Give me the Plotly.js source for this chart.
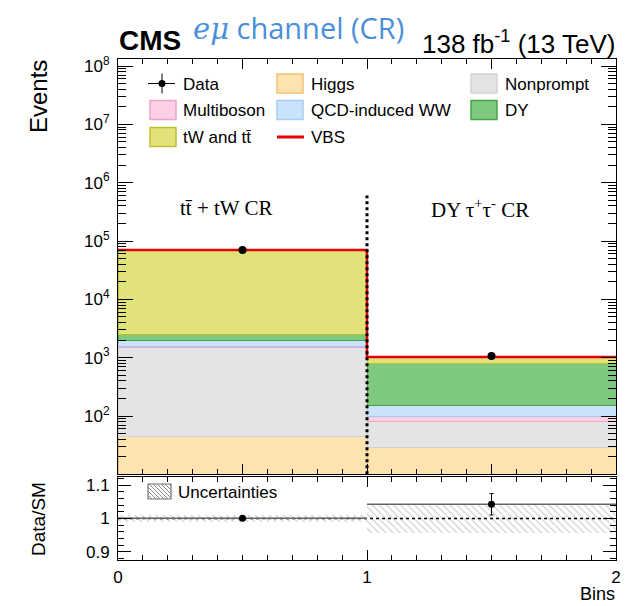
<!DOCTYPE html>
<html><head><meta charset="utf-8">
<script src="https://cdn.plot.ly/plotly-3.0.1.min.js"></script>
<style>html,body{margin:0;padding:0;background:#fff}#chart{width:641px;height:606px}</style>
</head><body><div id="chart"></div>
<script>
// ---------------- data ----------------
const binEdges = [0, 1, 2];
const binCenters = [0.5, 1.5];
const higgs = [44, 29];
const nonprompt = [1422, 51];
const multiboson = [119, 17];
const qcdWW = [347, 57];
const dy = [518, 646];
const topBkg = [67750, 200];
const vbs = [50, 25];
const dataVals = [70300, 1069];
const dataErr = [265, 33];
const relUnc = [0.01, 0.045];
const regionLabels = ['tt\u0304 + tW CR', 'DY \u03c4<sup>+</sup>\u03c4<sup>-</sup> CR'];
const legendNames = ['Data', 'Higgs', 'Nonprompt', 'Multiboson', 'QCD-induced WW', 'DY', 'tW and tt\u0304', 'VBS'];
const yDecades = [2, 3, 4, 5, 6, 7, 8];

// ---------------- styles ----------------
const FONT = 'Liberation Sans, Arial, Helvetica, sans-serif';
const SERIF = 'Liberation Serif, Times New Roman, serif';
const COL = {
  higgs: ['#fde3b0', '#f3c272'],
  nonprompt: ['#e4e4e4', '#d2d2d2'],
  multiboson: ['#fdd0e6', '#f0a3c8'],
  qcdWW: ['#c9e3fb', '#a7cdf1'],
  dy: ['#7fc97f', '#43a843'],
  top: ['#e2e27b', '#bfbf35'],
  vbs: '#e80000'
};
const W = 641, H = 606, ML = 118, MR = 25, MT = 59, MB = 46;
const PW = W - ML - MR, PH = H - MT - MB;
const px = x => (x - ML) / PW;
const py = y => (H - MB - y) / PH;

// ---------------- derived ----------------
const comps = [higgs, nonprompt, multiboson, qcdWW, dy, topBkg, vbs];
const total = binCenters.map((_, i) => comps.reduce((s, c) => s + c[i], 0));
const ratio = dataVals.map((d, i) => d / total[i]);
const ratioErr = dataErr.map((e, i) => e / total[i]);

const stack = [
  [higgs, COL.higgs], [nonprompt, COL.nonprompt], [multiboson, COL.multiboson],
  [qcdWW, COL.qcdWW], [dy, COL.dy], [topBkg, COL.top]
];
const traces = [];
stack.forEach(([vals, c]) => traces.push({
  type: 'bar', x: binCenters, y: vals, width: binCenters.map(() => 1),
  marker: { color: c[0], line: { color: c[1], width: 1 } },
  xaxis: 'x', yaxis: 'y', hoverinfo: 'skip', showlegend: false
}));
// VBS on top, drawn as step outline at total
traces.push({
  type: 'scatter', mode: 'lines', x: binEdges, y: [total[0], total[1], total[1]],
  line: { shape: 'hv', color: COL.vbs, width: 2.5 }, xaxis: 'x', yaxis: 'y',
  hoverinfo: 'skip', showlegend: false
});
// region divider
traces.push({
  type: 'scatter', mode: 'lines', x: [binEdges[1], binEdges[1]], y: [10, 6e5],
  line: { color: '#000', width: 3, dash: 'dot' }, xaxis: 'x', yaxis: 'y',
  hoverinfo: 'skip', showlegend: false
});
// data
traces.push({
  type: 'scatter', mode: 'markers', x: binCenters, y: dataVals,
  error_y: { type: 'data', array: dataErr, color: '#000', width: 0, thickness: 1 },
  marker: { color: '#000', size: 8 }, xaxis: 'x', yaxis: 'y', showlegend: false
});

// ratio panel
traces.push({
  type: 'bar', x: binCenters, y: relUnc.map(u => 2 * u), base: relUnc.map(u => 1 - u),
  width: binCenters.map(() => 1),
  marker: { color: 'rgba(255,255,255,0)', line: { width: 0 },
    pattern: { shape: '\\', fgcolor: '#8a8a8a', size: 5, solidity: 0.2, fillmode: 'overlay' } },
  xaxis: 'x2', yaxis: 'y2', hoverinfo: 'skip', showlegend: false
});
traces.push({
  type: 'scatter', mode: 'lines', x: [binEdges[0], binEdges[2]], y: [1, 1],
  line: { color: '#000', width: 1.5, dash: 'dot' }, xaxis: 'x2', yaxis: 'y2',
  hoverinfo: 'skip', showlegend: false
});
traces.push({
  type: 'scatter', mode: 'lines', x: [binEdges[0], binEdges[1], null, binEdges[1], binEdges[2]],
  y: [ratio[0], ratio[0], null, ratio[1], ratio[1]],
  line: { color: '#666666', width: 1.5 }, xaxis: 'x2', yaxis: 'y2',
  hoverinfo: 'skip', showlegend: false
});
traces.push({
  type: 'scatter', mode: 'markers', x: binCenters, y: ratio,
  error_y: { type: 'data', array: ratioErr, color: '#000', width: 2, thickness: 1 },
  marker: { color: '#000', size: 7 }, xaxis: 'x2', yaxis: 'y2', showlegend: false
});

// ---------------- annotations & legend ----------------
const ann = [];
const shapes = [];
const A = (text, x, y, size, opts = {}) => ann.push(Object.assign({
  text, x: px(x), y: py(y), xref: 'paper', yref: 'paper', showarrow: false,
  font: { family: FONT, size, color: '#000' }, xanchor: 'left', yanchor: 'middle'
}, opts));

A('<b>CMS</b>', 117, 41, 28);
A('<span style="font-family:\'DejaVu Serif\',serif;font-style:italic">e\u03bc</span> channel (CR)', 298, 27, 29,
  { xanchor: 'center', font: { family: 'Open Sans, sans-serif', size: 29, color: '#4a8fd8' } });
A('138 fb<sup>-1</sup> (13 TeV)', 617, 42, 26, { xanchor: 'right' });
A('Events', 38, 97, 24, { xanchor: 'center', textangle: -90 });
A('Data/SM', 38, 519, 19, { xanchor: 'center', textangle: -90 });
A('Bins', 617, 606, 18, { xanchor: 'right', yanchor: 'bottom' });
A(regionLabels[0], 226, 208, 21, { xanchor: 'center', font: { family: SERIF, size: 21, color: '#000' } });
A(regionLabels[1], 480, 208, 21, { xanchor: 'center', font: { family: SERIF, size: 21, color: '#000' } });

const rowY = [83.5, 110, 137];
const colBox = [150, 277, 471];
const colTxt = [181, 309, 503];
const legendStyle = [null, COL.higgs, COL.nonprompt, COL.multiboson, COL.qcdWW, COL.dy, COL.top, 'line'];
const rect = (x0, y0, x1, y1, fill, line, lw) => shapes.push({
  type: 'rect', xref: 'paper', yref: 'paper', x0: px(x0), x1: px(x1), y0: py(y1), y1: py(y0),
  fillcolor: fill, line: { color: line, width: lw }
});
const seg = (x0, y0, x1, y1, color, w) => shapes.push({
  type: 'line', xref: 'paper', yref: 'paper', x0: px(x0), x1: px(x1), y0: py(y0), y1: py(y1),
  line: { color, width: w }
});
legendNames.forEach((name, i) => {
  const col = i % 3, row = Math.floor(i / 3);
  const y = rowY[row], xb = colBox[col];
  const st = legendStyle[i];
  if (st === null) {
    seg(xb - 2, y, xb + 25, y, '#000', 1);
    seg(xb + 12, y - 10, xb + 12, y + 10, '#000', 1);
    shapes.push({ type: 'circle', xref: 'paper', yref: 'paper', x0: px(xb + 8.5), x1: px(xb + 15.5),
      y0: py(y + 3.5), y1: py(y - 3.5), fillcolor: '#000', line: { color: '#000', width: 0 } });
  } else if (st === 'line') {
    seg(xb, y, xb + 27, y, COL.vbs, 3);
  } else {
    rect(xb, y - 9.5, xb + 26, y + 9.5, st[0], st[1], 1.5);
  }
  A(name, colTxt[col], y + 1, 17);
});

// uncertainties legend (hatched box)
const ub = [148, 484, 171, 499];
rect(ub[0], ub[1], ub[2], ub[3], 'rgba(0,0,0,0)', '#6f6f6f', 1.2);
for (let k = -15; k < 23; k += 4) {
  let t0 = Math.max(0, -k), t1 = Math.min(ub[3] - ub[1], ub[2] - ub[0] - k);
  if (t1 > t0) seg(ub[0] + k + t0, ub[1] + t0, ub[0] + k + t1, ub[1] + t1, '#8a8a8a', 1);
}
A('Uncertainties', 176, 492, 17);

// ---------------- axes ----------------
const logMinor = [];
for (let d = 1; d <= 8; d++) for (let k = 2; k <= 9; k++) logMinor.push(k * Math.pow(10, d));
const axBase = {
  showline: true, linecolor: '#000', linewidth: 1, mirror: 'ticks', ticks: 'inside',
  tickcolor: '#000', showgrid: false, zeroline: false,
  tickfont: { family: FONT, size: 17, color: '#000' }
};
const layout = {
  width: W, height: H, margin: { l: ML, r: MR, t: MT, b: MB, pad: 0 },
  paper_bgcolor: '#fff', plot_bgcolor: '#fff', barmode: 'stack', bargap: 0,
  showlegend: false,
  xaxis: Object.assign({}, axBase, {
    domain: [0, 1], range: [0, 2], anchor: 'y', showticklabels: false,
    dtick: 0.5, tick0: 0, ticklen: 10,
    minor: { ticks: 'inside', ticklen: 5, dtick: 0.1, tick0: 0, tickcolor: '#000' }
  }),
  yaxis: Object.assign({}, axBase, {
    domain: [py(474), 1], type: 'log', range: [1.006, 8.12],
    tickmode: 'array', tickvals: yDecades.map(p => Math.pow(10, p)),
    ticktext: yDecades.map(p => '10<sup>' + p + '</sup>'),
    ticklen: 15, ticklabelstandoff: 4,
    minor: { ticks: 'inside', ticklen: 8, tickmode: 'array', tickvals: logMinor, tickcolor: '#000' }
  }),
  xaxis2: Object.assign({}, axBase, {
    domain: [0, 1], range: [0, 2], anchor: 'y2',
    dtick: 1, tick0: 0, ticklen: 10, ticklabelstandoff: 2,
    minor: { ticks: 'inside', ticklen: 5, dtick: 0.1, tick0: 0, tickcolor: '#000' }
  }),
  yaxis2: Object.assign({}, axBase, {
    domain: [0, py(477)], range: [0.875, 1.125], anchor: 'x2',
    dtick: 0.1, tick0: 0.9, ticklen: 13, ticklabelstandoff: 4,
    minor: { ticks: 'inside', ticklen: 6, dtick: 0.02, tick0: 0.9, tickcolor: '#000' }
  }),
  annotations: ann, shapes: shapes
};
Plotly.newPlot('chart', traces, layout, { staticPlot: true });
</script></body></html>
